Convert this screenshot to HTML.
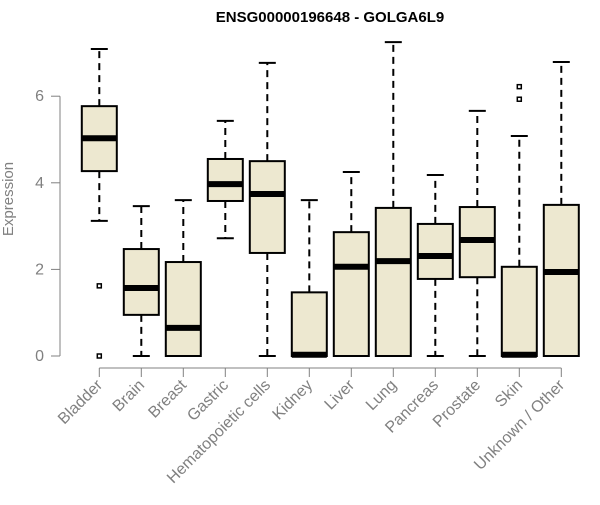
<!DOCTYPE html>
<html><head><meta charset="utf-8"><style>
body{margin:0;background:#fff}
svg text{font-family:"Liberation Sans",Arial,sans-serif}
</style></head><body>
<svg id="c" width="600" height="500" xmlns="http://www.w3.org/2000/svg">
<text x="330" y="22" text-anchor="middle" font-size="15" font-weight="bold">ENSG00000196648 - GOLGA6L9</text>
<text transform="translate(13,199) rotate(-90)" text-anchor="middle" font-size="15" fill="#808080">Expression</text>
<g id="g"></g>
</svg>
<script>
const categories=["Bladder","Brain","Breast","Gastric","Hematopoietic cells","Kidney","Liver","Lung","Pancreas","Prostate","Skin","Unknown / Other"];
const whiskerLow=[3.12,0,0,2.72,0,0,0,0,0,0,0,0];
const q1=[4.27,0.95,0,3.58,2.38,0,0,0,1.78,1.82,0,0];
const medians=[5.03,1.57,0.65,3.97,3.74,0.03,2.06,2.19,2.31,2.68,0.03,1.94];
const q3=[5.77,2.47,2.17,4.55,4.5,1.47,2.86,3.42,3.05,3.44,2.06,3.49];
const whiskerHigh=[7.09,3.46,3.6,5.43,6.77,3.6,4.25,7.25,4.18,5.66,5.08,6.79];
const outliers=[[1.62,0],[],[],[],[],[],[],[],[],[],[5.93,6.22],[]];
const yTicks=[0,2,4,6];
const NS="http://www.w3.org/2000/svg";
const g=document.getElementById('g');
const y=v=>356-v*43.3;
const x=i=>99.3+i*42;
function mk(t,a){const e=document.createElementNS(NS,t);for(const k in a)e.setAttribute(k,a[k]);g.appendChild(e);return e;}
let e;
e=mk('line',{x1:60,x2:60,y1:y(0),y2:y(6),stroke:'#808080','stroke-width':1});


yTicks.forEach(t=>{
 e=mk('line',{x1:51,x2:60,y1:y(t),y2:y(t),stroke:'#808080'});
 
 
 e=mk('text',{x:44,y:y(t)+5,'text-anchor':'end','font-size':16,fill:'#808080'});e.textContent=t;
 
 
});
e=mk('line',{x1:x(0),x2:x(11),y1:368,y2:368,stroke:'#808080'});


categories.forEach((c,i)=>{
 const cx=x(i),w=17.5;
 e=mk('line',{x1:cx,x2:cx,y1:368,y2:377,stroke:'#808080'});
 
 
 e=mk('text',{transform:`translate(${cx+4},${386}) rotate(-45)`,'text-anchor':'end','font-size':16,fill:'#808080'});e.textContent=c;
 
 
 e=mk('line',{x1:cx,x2:cx,y1:y(q3[i]),y2:y(whiskerHigh[i]),stroke:'#000','stroke-width':2,'stroke-dasharray':'7,5'});
 
 
 e=mk('line',{x1:cx,x2:cx,y1:y(q1[i]),y2:y(whiskerLow[i]),stroke:'#000','stroke-width':2,'stroke-dasharray':'7,5'});
 
 
 [whiskerHigh[i],whiskerLow[i]].forEach(v=>{
  e=mk('line',{x1:cx-8.5,x2:cx+8.5,y1:y(v),y2:y(v),stroke:'#000','stroke-width':2});
  
  
 });
 e=mk('rect',{x:cx-w,y:y(q3[i]),width:2*w,height:y(q1[i])-y(q3[i]),fill:'#ede8d0',stroke:'#000','stroke-width':2});
 
 
 e=mk('line',{x1:cx-w,x2:cx+w,y1:y(medians[i]),y2:y(medians[i]),stroke:'#000','stroke-width':6});
 
 
 outliers[i].forEach(v=>{
  e=mk('rect',{x:cx-2,y:y(v)-2,width:4,height:4,fill:'none',stroke:'#000','stroke-width':1.5});
  
  
 });
});
</script>
</body></html>
